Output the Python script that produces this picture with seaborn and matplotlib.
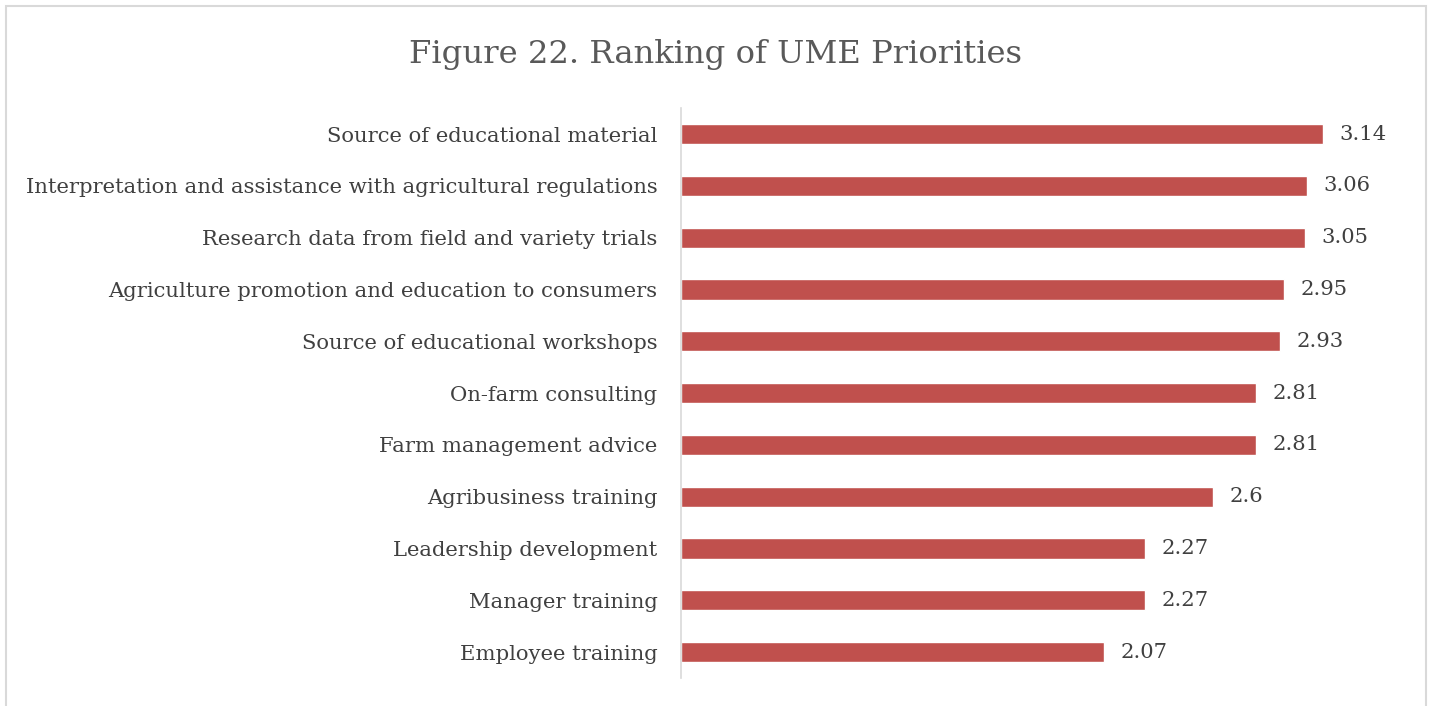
import matplotlib
matplotlib.use("Agg")
import matplotlib.pyplot as plt
import pandas as pd
import seaborn as sns
from matplotlib.patches import Rectangle

# data (top to bottom)
categories = [
    "Source of educational material",
    "Interpretation and assistance with agricultural regulations",
    "Research data from field and variety trials",
    "Agriculture promotion and education to consumers",
    "Source of educational workshops",
    "On-farm consulting",
    "Farm management advice",
    "Agribusiness training",
    "Leadership development",
    "Manager training",
    "Employee training",
]
scores = [3.14, 3.06, 3.05, 2.95, 2.93, 2.81, 2.81, 2.6, 2.27, 2.27, 2.07]
score_labels = ["3.14", "3.06", "3.05", "2.95", "2.93", "2.81", "2.81", "2.6", "2.27", "2.27", "2.07"]

df = pd.DataFrame({"item": categories, "score": scores})

sns.set_theme(style="white")
plt.rcParams["font.family"] = ["DejaVu Serif"]

fig = plt.figure(figsize=(14.31, 7.06), dpi=100)
ax = fig.add_axes([0.4759, 0.0397, 0.5003, 0.807])

sns.barplot(data=df, x="score", y="item", color="#C0504D", saturation=1,
            width=0.39, orient="h", ax=ax)

ax.set_xlim(0, 3.5)
ax.set_ylim(10.5, -0.5)
ax.set_xlabel("")
ax.set_ylabel("")
ax.set_xticks([])
ax.tick_params(axis="y", length=0, pad=17, labelsize=15.2, labelcolor="#404040")
for s in ["top", "right", "bottom"]:
    ax.spines[s].set_visible(False)
ax.spines["left"].set_color("#D9D9D9")
ax.spines["left"].set_linewidth(1.2)

for i, (v, lab) in enumerate(zip(scores, score_labels)):
    ax.text(v + 0.08, i, lab, va="center", ha="left", fontsize=15.2, color="#404040")

fig.text(0.5, 0.923, "Figure 22. Ranking of UME Priorities", ha="center", va="center",
         fontsize=23.2, color="#595959")

# outer chart border
fig.patches.append(Rectangle((6 / 1431, -0.01), 1420 / 1431, 1 - 6 / 706 + 0.01,
                             transform=fig.transFigure, fill=False,
                             edgecolor="#D9D9D9", linewidth=1.5))

fig.savefig("out.png", dpi=100)
